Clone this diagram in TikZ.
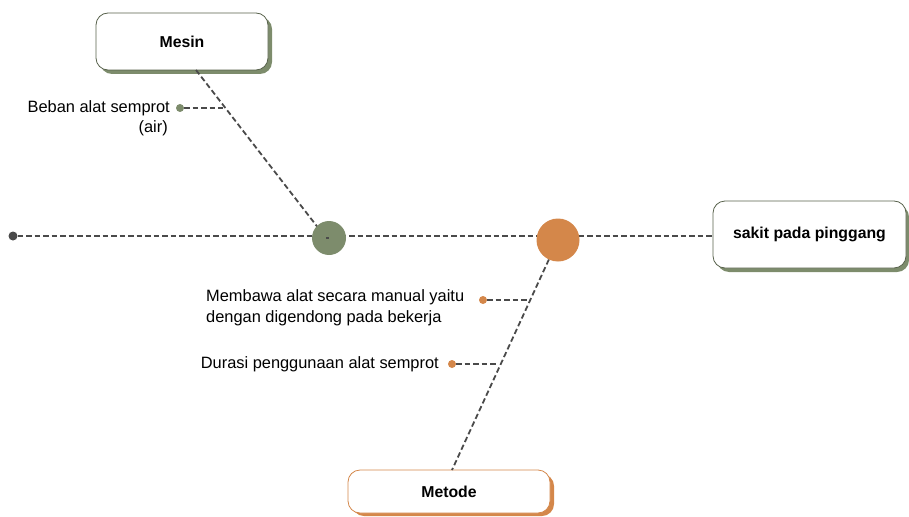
\documentclass[tikz,border=0pt]{standalone}
\usepackage{fontspec}
\setmainfont{Liberation Sans}
\definecolor{sage}{HTML}{7D8C6C}
\definecolor{ochre}{HTML}{D4874A}
\definecolor{linegray}{HTML}{4A4A4A}
\begin{document}
\begin{tikzpicture}[x=1pt,y=-1pt,
  conn/.style={draw=linegray, line width=1.8pt, dash pattern=on 5.5pt off 3pt},
  card/.style={draw=#1, fill=white, rounded corners=12pt, line width=0.8pt, inner sep=0pt, font=\bfseries\fontsize{15.8}{18}\selectfont},
  lbl/.style={font=\fontsize{16.4}{21}\selectfont, inner sep=0pt}
]
\useasboundingbox (0,0) rectangle (909,516);
% shadows
\fill[sage, rounded corners=12pt] (100,17) rectangle (272,74);
\fill[sage, rounded corners=12pt] (717,205) rectangle (909,272);
\fill[ochre, rounded corners=12pt] (352,474) rectangle (554,516);
% cards
\node[card=sage!70!black, minimum width=172pt, minimum height=57pt] (mesin) at (182,41.5) {Mesin};
\node[card=sage!70!black, minimum width=193pt, minimum height=67pt] (sakit) at (809.5,234.5) {sakit pada pinggang};
\node[card=ochre, minimum width=202pt, minimum height=43pt] (metode) at (449,491.5) {Metode};
% spine
\node[circle, fill=linegray, minimum size=9pt, inner sep=0pt] (tail) at (13,236) {};
\coordinate (sp) at (713,236);
\draw[conn] (tail) -- (sp);
% branches
\coordinate (mtop) at (196,70);
\coordinate (gc) at (326,238);
\coordinate (mbot) at (452,470);
\coordinate (oc) at (556,244);
\draw[conn] (mtop) -- (gc);
\draw[conn] (oc) -- (mbot);
\node[circle, fill=sage, minimum size=34pt, inner sep=0pt] (g) at (329,238) {};
\node[circle, fill=ochre, minimum size=43pt, inner sep=0pt] (o) at (558,240) {};
\draw[conn] (gc) -- (g.center);
% sub-causes
\node[circle, fill=sage, minimum size=8pt, inner sep=0pt] (d1) at (180,108) {};
\coordinate (b1) at (222.5,108);
\draw[conn] (d1) -- (b1);
\node[lbl, anchor=east, align=right] (t1) at (170,108) {Beban alat semprot};
\node[lbl, anchor=east] (t1b) at (168,128) {(air)};

\node[circle, fill=ochre, minimum size=8pt, inner sep=0pt] (d2) at (483,300) {};
\coordinate (b2) at (527,300);
\draw[conn] (d2) -- (b2);
\node[lbl, anchor=west, align=left] (t2) at (206,307.5) {Membawa alat secara manual yaitu\\dengan digendong pada bekerja};

\node[circle, fill=ochre, minimum size=8pt, inner sep=0pt] (d3) at (452,364) {};
\coordinate (b3) at (498,364);
\draw[conn] (d3) -- (b3);
\node[lbl, anchor=east] (t3) at (439,364) {Durasi penggunaan alat semprot};
\end{tikzpicture}
\end{document}
